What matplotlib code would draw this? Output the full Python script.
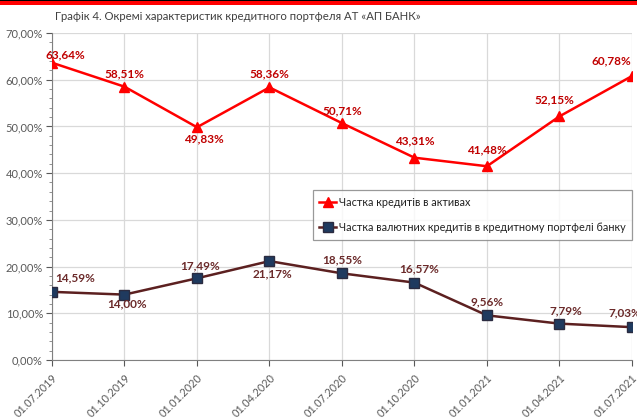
import numpy as np
import matplotlib.pyplot as plt
from matplotlib.patches import Rectangle
from matplotlib.ticker import MultipleLocator, FuncFormatter

plt.rcParams['font.family'] = ['Lato', 'DejaVu Sans']

# Дані з графіка
dates = ['01.07.2019', '01.10.2019', '01.01.2020', '01.04.2020', '01.07.2020',
         '01.10.2020', '01.01.2021', '01.04.2021', '01.07.2021']
loans_share = [63.64, 58.51, 49.83, 58.36, 50.71, 43.31, 41.48, 52.15, 60.78]
fx_share = [14.59, 14.00, 17.49, 21.17, 18.55, 16.57, 9.56, 7.79, 7.03]

# зсуви підписів (точки)
loans_off = [(10, 6), (0, 9), (5, -8), (0, 10), (0, 9), (0, 12), (0, 12), (-3.5, 12), (-15, 11)]
fx_off = [(17, 10), (2, -7), (2, 9), (2, -9.5), (0, 10), (3.5, 10), (0, 10), (5, 9.5), (-5, 10)]

x = np.arange(len(dates))
fmt = lambda v: f'{v:.2f}'.replace('.', ',') + '%'

fig = plt.figure(figsize=(6.37, 4.19), dpi=100)
ax = fig.add_axes([0.0816, 0.1408, 0.9104, 0.7804])

ax.plot(x, loans_share, color='#ff0000', lw=1.8, marker='^', ms=7,
        label='Частка кредитів в активах', zorder=3)
ax.plot(x, fx_share, color='#5c2020', lw=1.8, marker='s', ms=6.5,
        markerfacecolor='#1f3a5f', markeredgecolor='#2b2b40',
        label='Частка валютних кредитів в кредитному портфелі банку', zorder=3)

for xi, v, (dx, dy) in zip(x, loans_share, loans_off):
    ax.annotate(fmt(v), (xi, v), xytext=(dx, dy), textcoords='offset points',
                ha='center', va='center', fontsize=8.5, fontweight='bold',
                color='#c00000', zorder=4)
for xi, v, (dx, dy) in zip(x, fx_share, fx_off):
    ax.annotate(fmt(v), (xi, v), xytext=(dx, dy), textcoords='offset points',
                ha='center', va='center', fontsize=8.5, fontweight='bold',
                color='#6b2a2a', zorder=4, annotation_clip=False)

ax.set_xlim(0, len(dates) - 1)
ax.set_ylim(0, 70)
ax.yaxis.set_major_locator(MultipleLocator(10))
ax.yaxis.set_minor_locator(MultipleLocator(2))
ax.yaxis.set_major_formatter(FuncFormatter(lambda v, p: fmt(v)))
ax.set_xticks(x)
ax.set_xticklabels(dates, rotation=45, ha='right', rotation_mode='anchor')
ax.tick_params(axis='both', labelsize=8, colors='#595959', length=4)
ax.tick_params(axis='x', labelsize=7.8)
ax.tick_params(axis='y', which='minor', length=2, color='#808080')
ax.tick_params(axis='y', pad=2.5)
ax.tick_params(axis='x', pad=4.5)
ax.grid(True, which='major', color='#d9d9d9', lw=0.9)
ax.set_axisbelow(True)
for s in ['top', 'right']:
    ax.spines[s].set_visible(False)
for s in ['left', 'bottom']:
    ax.spines[s].set_color('#808080')

leg = ax.legend(loc='upper left', bbox_to_anchor=(0.44, 0.535), fontsize=7.8,
                frameon=True, fancybox=False, edgecolor='#808080',
                handlelength=1.6, handletextpad=0.2, labelspacing=1.3,
                borderpad=0.6, labelcolor='#222222')
leg.get_frame().set_linewidth(0.9)

fig.text(0.086, 0.96, 'Графік 4. Окремі характеристик кредитного портфеля АТ «АП БАНК»',
         fontsize=8.2, color='#404040', va='center')

# червона смуга зверху
fig.patches.append(Rectangle((0, 0.987), 1, 0.013, transform=fig.transFigure,
                             facecolor='#ff0000', edgecolor='none'))
fig.patches.append(Rectangle((0, 0.997), 1, 0.003, transform=fig.transFigure,
                             facecolor='#000000', edgecolor='none'))

fig.savefig('out.png', dpi=100)
